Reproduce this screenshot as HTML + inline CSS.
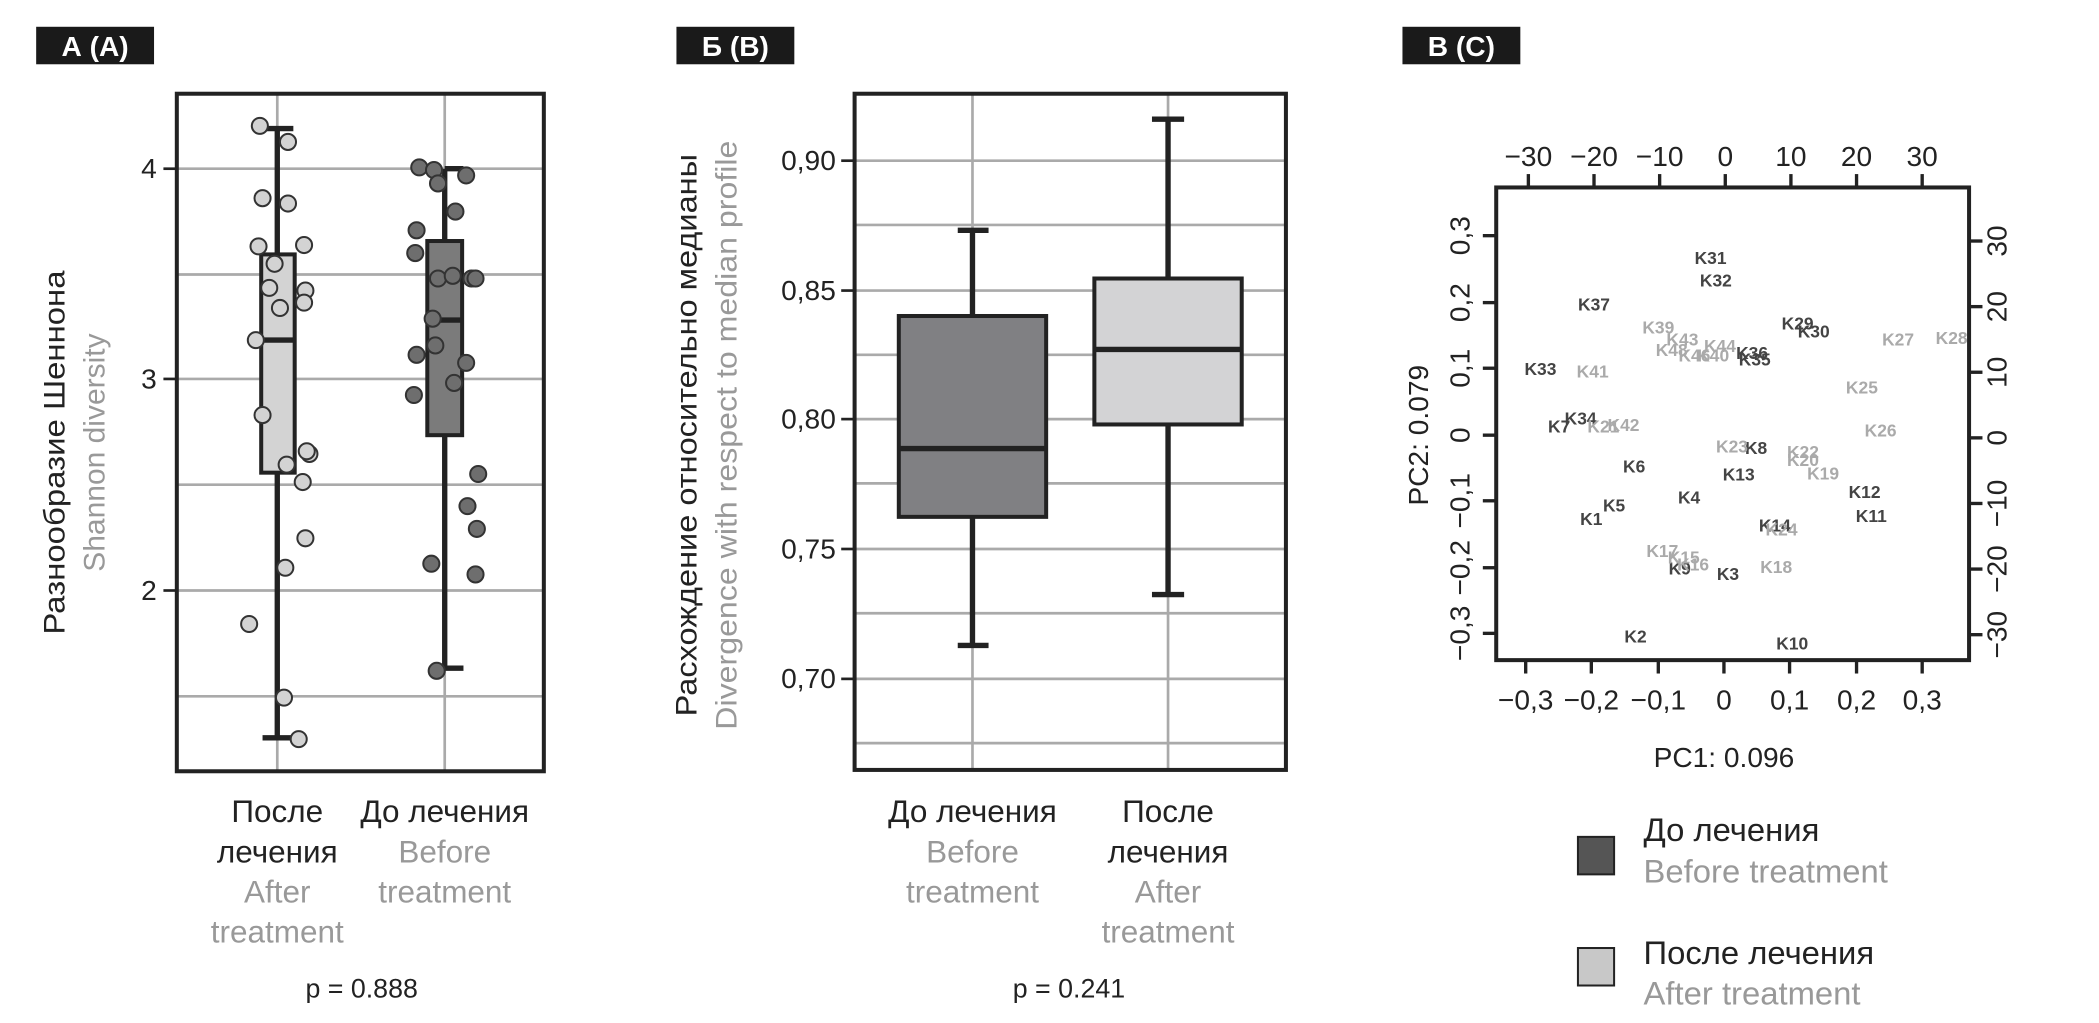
<!DOCTYPE html>
<html><head><meta charset="utf-8"><style>html,body{margin:0;padding:0;background:#fff}svg{display:block}</style></head>
<body>
<svg width="2099" height="1023" viewBox="0 0 1567 764" preserveAspectRatio="none" xmlns="http://www.w3.org/2000/svg" font-family="'Liberation Sans', sans-serif">
<!-- Panel A -->
<rect x="27" y="20" width="88" height="28" fill="#1a1a1a"/>
<text x="71" y="42" fill="#fff" font-size="21" font-weight="bold" text-anchor="middle">А (A)</text>
<g stroke="#aaa" stroke-width="2">
<line x1="132" y1="126" x2="406" y2="126"/><line x1="132" y1="205" x2="406" y2="205"/><line x1="132" y1="283" x2="406" y2="283"/><line x1="132" y1="362" x2="406" y2="362"/><line x1="132" y1="441" x2="406" y2="441"/><line x1="132" y1="520" x2="406" y2="520"/>
<line x1="207" y1="70" x2="207" y2="576"/><line x1="332" y1="70" x2="332" y2="576"/>
</g>
<g stroke="#222" stroke-width="2"><line x1="122" y1="126" x2="132" y2="126"/><line x1="122" y1="283" x2="132" y2="283"/><line x1="122" y1="441" x2="132" y2="441"/></g>
<g font-size="21" fill="#222" text-anchor="end"><text x="117" y="133">4</text><text x="117" y="290">3</text><text x="117" y="448">2</text></g>
<g stroke="#222" stroke-width="4" fill="none">
<line x1="207" y1="96" x2="207" y2="551"/><line x1="196" y1="96" x2="219" y2="96"/><line x1="196" y1="551" x2="219" y2="551"/>
<line x1="332" y1="126" x2="332" y2="499"/><line x1="332" y1="126" x2="346" y2="126"/><line x1="332" y1="499" x2="346" y2="499"/>
</g>
<rect x="195" y="190" width="25" height="163" fill="#d3d3d3" stroke="#222" stroke-width="3"/>
<line x1="195" y1="254" x2="220" y2="254" stroke="#222" stroke-width="4"/>
<rect x="319" y="180" width="26" height="145" fill="#7b7b7b" stroke="#222" stroke-width="3"/>
<line x1="319" y1="239" x2="345" y2="239" stroke="#222" stroke-width="4"/>
<g fill="#d3d3d3" stroke="#333" stroke-width="1.5">
<circle cx="194" cy="94" r="6"/><circle cx="215" cy="106" r="6"/><circle cx="196" cy="148" r="6"/><circle cx="215" cy="152" r="6"/><circle cx="193" cy="184" r="6"/><circle cx="227" cy="183" r="6"/><circle cx="205" cy="197" r="6"/><circle cx="201" cy="215" r="6"/><circle cx="228" cy="217" r="6"/><circle cx="209" cy="230" r="6"/><circle cx="227" cy="226" r="6"/><circle cx="191" cy="254" r="6"/><circle cx="196" cy="310" r="6"/><circle cx="231" cy="339" r="6"/><circle cx="229" cy="337" r="6"/><circle cx="214" cy="347" r="6"/><circle cx="226" cy="360" r="6"/><circle cx="228" cy="402" r="6"/><circle cx="213" cy="424" r="6"/><circle cx="186" cy="466" r="6"/><circle cx="212" cy="521" r="6"/><circle cx="223" cy="552" r="6"/>
</g>
<g fill="#6e6e6e" stroke="#333" stroke-width="1.5">
<circle cx="313" cy="125" r="6"/><circle cx="324" cy="127" r="6"/><circle cx="327" cy="137" r="6"/><circle cx="348" cy="131" r="6"/><circle cx="340" cy="158" r="6"/><circle cx="311" cy="172" r="6"/><circle cx="310" cy="189" r="6"/><circle cx="327" cy="208" r="6"/><circle cx="338" cy="206" r="6"/><circle cx="352" cy="208" r="6"/><circle cx="355" cy="208" r="6"/><circle cx="323" cy="238" r="6"/><circle cx="325" cy="258" r="6"/><circle cx="311" cy="265" r="6"/><circle cx="348" cy="271" r="6"/><circle cx="339" cy="286" r="6"/><circle cx="309" cy="295" r="6"/><circle cx="357" cy="354" r="6"/><circle cx="349" cy="378" r="6"/><circle cx="356" cy="395" r="6"/><circle cx="322" cy="421" r="6"/><circle cx="355" cy="429" r="6"/><circle cx="326" cy="501" r="6"/>
</g>
<rect x="132" y="70" width="274" height="506" fill="none" stroke="#222" stroke-width="3"/>
<text transform="translate(48,338) rotate(-90)" font-size="22" fill="#222" text-anchor="middle" textLength="272" lengthAdjust="spacingAndGlyphs">Разнообразие Шеннона</text>
<text transform="translate(78,338) rotate(-90)" font-size="22" fill="#999" text-anchor="middle" textLength="178" lengthAdjust="spacingAndGlyphs">Shannon diversity</text>
<g font-size="23.5" text-anchor="middle">
<text x="207" y="614" fill="#222">После</text><text x="207" y="644" fill="#222">лечения</text><text x="207" y="674" fill="#999">After</text><text x="207" y="704" fill="#999">treatment</text>
<text x="332" y="614" fill="#222">До лечения</text><text x="332" y="644" fill="#999">Before</text><text x="332" y="674" fill="#999">treatment</text>
<text x="270" y="745" fill="#222" font-size="20">p = 0.888</text>
</g>
<!-- Panel B -->
<rect x="505" y="20" width="88" height="28" fill="#1a1a1a"/>
<text x="549" y="42" fill="#fff" font-size="21" font-weight="bold" text-anchor="middle">Б (B)</text>
<g stroke="#aaa" stroke-width="2">
<line x1="638" y1="120" x2="960" y2="120"/><line x1="638" y1="168" x2="960" y2="168"/><line x1="638" y1="217" x2="960" y2="217"/><line x1="638" y1="265" x2="960" y2="265"/><line x1="638" y1="313" x2="960" y2="313"/><line x1="638" y1="361" x2="960" y2="361"/><line x1="638" y1="410" x2="960" y2="410"/><line x1="638" y1="458" x2="960" y2="458"/><line x1="638" y1="507" x2="960" y2="507"/><line x1="638" y1="555" x2="960" y2="555"/>
<line x1="726" y1="70" x2="726" y2="575"/><line x1="872" y1="70" x2="872" y2="575"/>
</g>
<g stroke="#222" stroke-width="2"><line x1="628" y1="120" x2="638" y2="120"/><line x1="628" y1="217" x2="638" y2="217"/><line x1="628" y1="313" x2="638" y2="313"/><line x1="628" y1="410" x2="638" y2="410"/><line x1="628" y1="507" x2="638" y2="507"/></g>
<g font-size="21" fill="#222" text-anchor="end"><text x="624" y="127">0,90</text><text x="624" y="224">0,85</text><text x="624" y="320">0,80</text><text x="624" y="417">0,75</text><text x="624" y="514">0,70</text></g>
<g stroke="#222" stroke-width="4">
<line x1="726" y1="172" x2="726" y2="482"/><line x1="715" y1="172" x2="738" y2="172"/><line x1="715" y1="482" x2="738" y2="482"/>
<line x1="872" y1="89" x2="872" y2="444"/><line x1="860" y1="89" x2="884" y2="89"/><line x1="860" y1="444" x2="884" y2="444"/>
</g>
<rect x="671" y="236" width="110" height="150" fill="#808083" stroke="#222" stroke-width="3"/>
<line x1="671" y1="335" x2="781" y2="335" stroke="#222" stroke-width="4"/>
<rect x="817" y="208" width="110" height="109" fill="#d3d3d5" stroke="#222" stroke-width="3"/>
<line x1="817" y1="261" x2="927" y2="261" stroke="#222" stroke-width="4"/>
<rect x="638" y="70" width="322" height="505" fill="none" stroke="#222" stroke-width="3"/>
<text transform="translate(520,325) rotate(-90)" font-size="22" fill="#222" text-anchor="middle" textLength="420" lengthAdjust="spacingAndGlyphs">Расхождение относительно медианы</text>
<text transform="translate(550,325) rotate(-90)" font-size="22" fill="#999" text-anchor="middle" textLength="440" lengthAdjust="spacingAndGlyphs">Divergence with respect to median profile</text>
<g font-size="23.5" text-anchor="middle">
<text x="726" y="614" fill="#222">До лечения</text><text x="726" y="644" fill="#999">Before</text><text x="726" y="674" fill="#999">treatment</text>
<text x="872" y="614" fill="#222">После</text><text x="872" y="644" fill="#222">лечения</text><text x="872" y="674" fill="#999">After</text><text x="872" y="704" fill="#999">treatment</text>
<text x="798" y="745" fill="#222" font-size="20">p = 0.241</text>
</g>
<!-- Panel C -->
<rect x="1047" y="20" width="88" height="28" fill="#1a1a1a"/>
<text x="1091" y="42" fill="#fff" font-size="21" font-weight="bold" text-anchor="middle">В (C)</text>
<rect x="1117" y="140" width="353" height="353" fill="none" stroke="#222" stroke-width="3"/>
<g stroke="#222" stroke-width="2.5">
<line x1="1139" y1="493" x2="1139" y2="503"/><line x1="1188" y1="493" x2="1188" y2="503"/><line x1="1238" y1="493" x2="1238" y2="503"/><line x1="1287" y1="493" x2="1287" y2="503"/><line x1="1336" y1="493" x2="1336" y2="503"/><line x1="1386" y1="493" x2="1386" y2="503"/><line x1="1435" y1="493" x2="1435" y2="503"/>
<line x1="1141" y1="130" x2="1141" y2="140"/><line x1="1190" y1="130" x2="1190" y2="140"/><line x1="1239" y1="130" x2="1239" y2="140"/><line x1="1288" y1="130" x2="1288" y2="140"/><line x1="1337" y1="130" x2="1337" y2="140"/><line x1="1386" y1="130" x2="1386" y2="140"/><line x1="1435" y1="130" x2="1435" y2="140"/>
<line x1="1107" y1="176" x2="1117" y2="176"/><line x1="1107" y1="226" x2="1117" y2="226"/><line x1="1107" y1="275" x2="1117" y2="275"/><line x1="1107" y1="325" x2="1117" y2="325"/><line x1="1107" y1="374" x2="1117" y2="374"/><line x1="1107" y1="424" x2="1117" y2="424"/><line x1="1107" y1="473" x2="1117" y2="473"/>
<line x1="1470" y1="180" x2="1480" y2="180"/><line x1="1470" y1="229" x2="1480" y2="229"/><line x1="1470" y1="278" x2="1480" y2="278"/><line x1="1470" y1="327" x2="1480" y2="327"/><line x1="1470" y1="376" x2="1480" y2="376"/><line x1="1470" y1="425" x2="1480" y2="425"/><line x1="1470" y1="474" x2="1480" y2="474"/>
</g>
<g font-size="21" fill="#222" text-anchor="middle">
<text x="1139" y="530">−0,3</text><text x="1188" y="530">−0,2</text><text x="1238" y="530">−0,1</text><text x="1287" y="530">0</text><text x="1336" y="530">0,1</text><text x="1386" y="530">0,2</text><text x="1435" y="530">0,3</text>
<text x="1141" y="124">−30</text><text x="1190" y="124">−20</text><text x="1239" y="124">−10</text><text x="1288" y="124">0</text><text x="1337" y="124">10</text><text x="1386" y="124">20</text><text x="1435" y="124">30</text>
<text transform="translate(1097,176) rotate(-90)">0,3</text><text transform="translate(1097,226) rotate(-90)">0,2</text><text transform="translate(1097,275) rotate(-90)">0,1</text><text transform="translate(1097,325) rotate(-90)">0</text><text transform="translate(1097,374) rotate(-90)">−0,1</text><text transform="translate(1097,424) rotate(-90)">−0,2</text><text transform="translate(1097,473) rotate(-90)">−0,3</text>
<text transform="translate(1498,180) rotate(-90)">30</text><text transform="translate(1498,229) rotate(-90)">20</text><text transform="translate(1498,278) rotate(-90)">10</text><text transform="translate(1498,327) rotate(-90)">0</text><text transform="translate(1498,376) rotate(-90)">−10</text><text transform="translate(1498,425) rotate(-90)">−20</text><text transform="translate(1498,474) rotate(-90)">−30</text>
<text x="1287" y="573">PC1: 0.096</text>
<text transform="translate(1066,325) rotate(-90)">PC2: 0.079</text>
</g>
<g font-size="13" font-weight="bold" text-anchor="middle">
<g fill="#444">
<text x="1277" y="197">K31</text><text x="1281" y="214">K32</text><text x="1190" y="232">K37</text><text x="1342" y="246">K29</text><text x="1354" y="252">K30</text><text x="1308" y="268">K36</text><text x="1310" y="273">K35</text><text x="1150" y="280">K33</text><text x="1180" y="317">K34</text><text x="1164" y="323">K7</text><text x="1311" y="339">K8</text><text x="1220" y="353">K6</text><text x="1298" y="359">K13</text><text x="1392" y="372">K12</text><text x="1261" y="376">K4</text><text x="1205" y="382">K5</text><text x="1188" y="392">K1</text><text x="1397" y="390">K11</text><text x="1325" y="397">K14</text><text x="1254" y="429">K9</text><text x="1290" y="433">K3</text><text x="1221" y="480">K2</text><text x="1338" y="485">K10</text>
</g>
<g fill="#aaa">
<text x="1238" y="249">K39</text><text x="1417" y="258">K27</text><text x="1457" y="257">K28</text><text x="1256" y="258">K43</text><text x="1284" y="263">K44</text><text x="1248" y="266">K48</text><text x="1265" y="270">K46</text><text x="1279" y="270">K40</text><text x="1189" y="282">K41</text><text x="1390" y="294">K25</text><text x="1197" y="323">K21</text><text x="1212" y="322">K42</text><text x="1404" y="326">K26</text><text x="1293" y="338">K23</text><text x="1346" y="342">K22</text><text x="1346" y="348">K20</text><text x="1361" y="358">K19</text><text x="1330" y="400">K24</text><text x="1241" y="416">K17</text><text x="1257" y="421">K15</text><text x="1264" y="426">K16</text><text x="1326" y="428">K18</text>
</g>
</g>
<rect x="1178" y="625" width="27" height="28" fill="#555" stroke="#222" stroke-width="1.5"/>
<rect x="1178" y="708" width="27" height="28" fill="#c8c8c8" stroke="#222" stroke-width="1.5"/>
<g font-size="24.5">
<text x="1227" y="628" fill="#222">До лечения</text><text x="1227" y="659" fill="#999">Before treatment</text>
<text x="1227" y="720" fill="#222">После лечения</text><text x="1227" y="750" fill="#999">After treatment</text>
</g>
</svg>
</body></html>
